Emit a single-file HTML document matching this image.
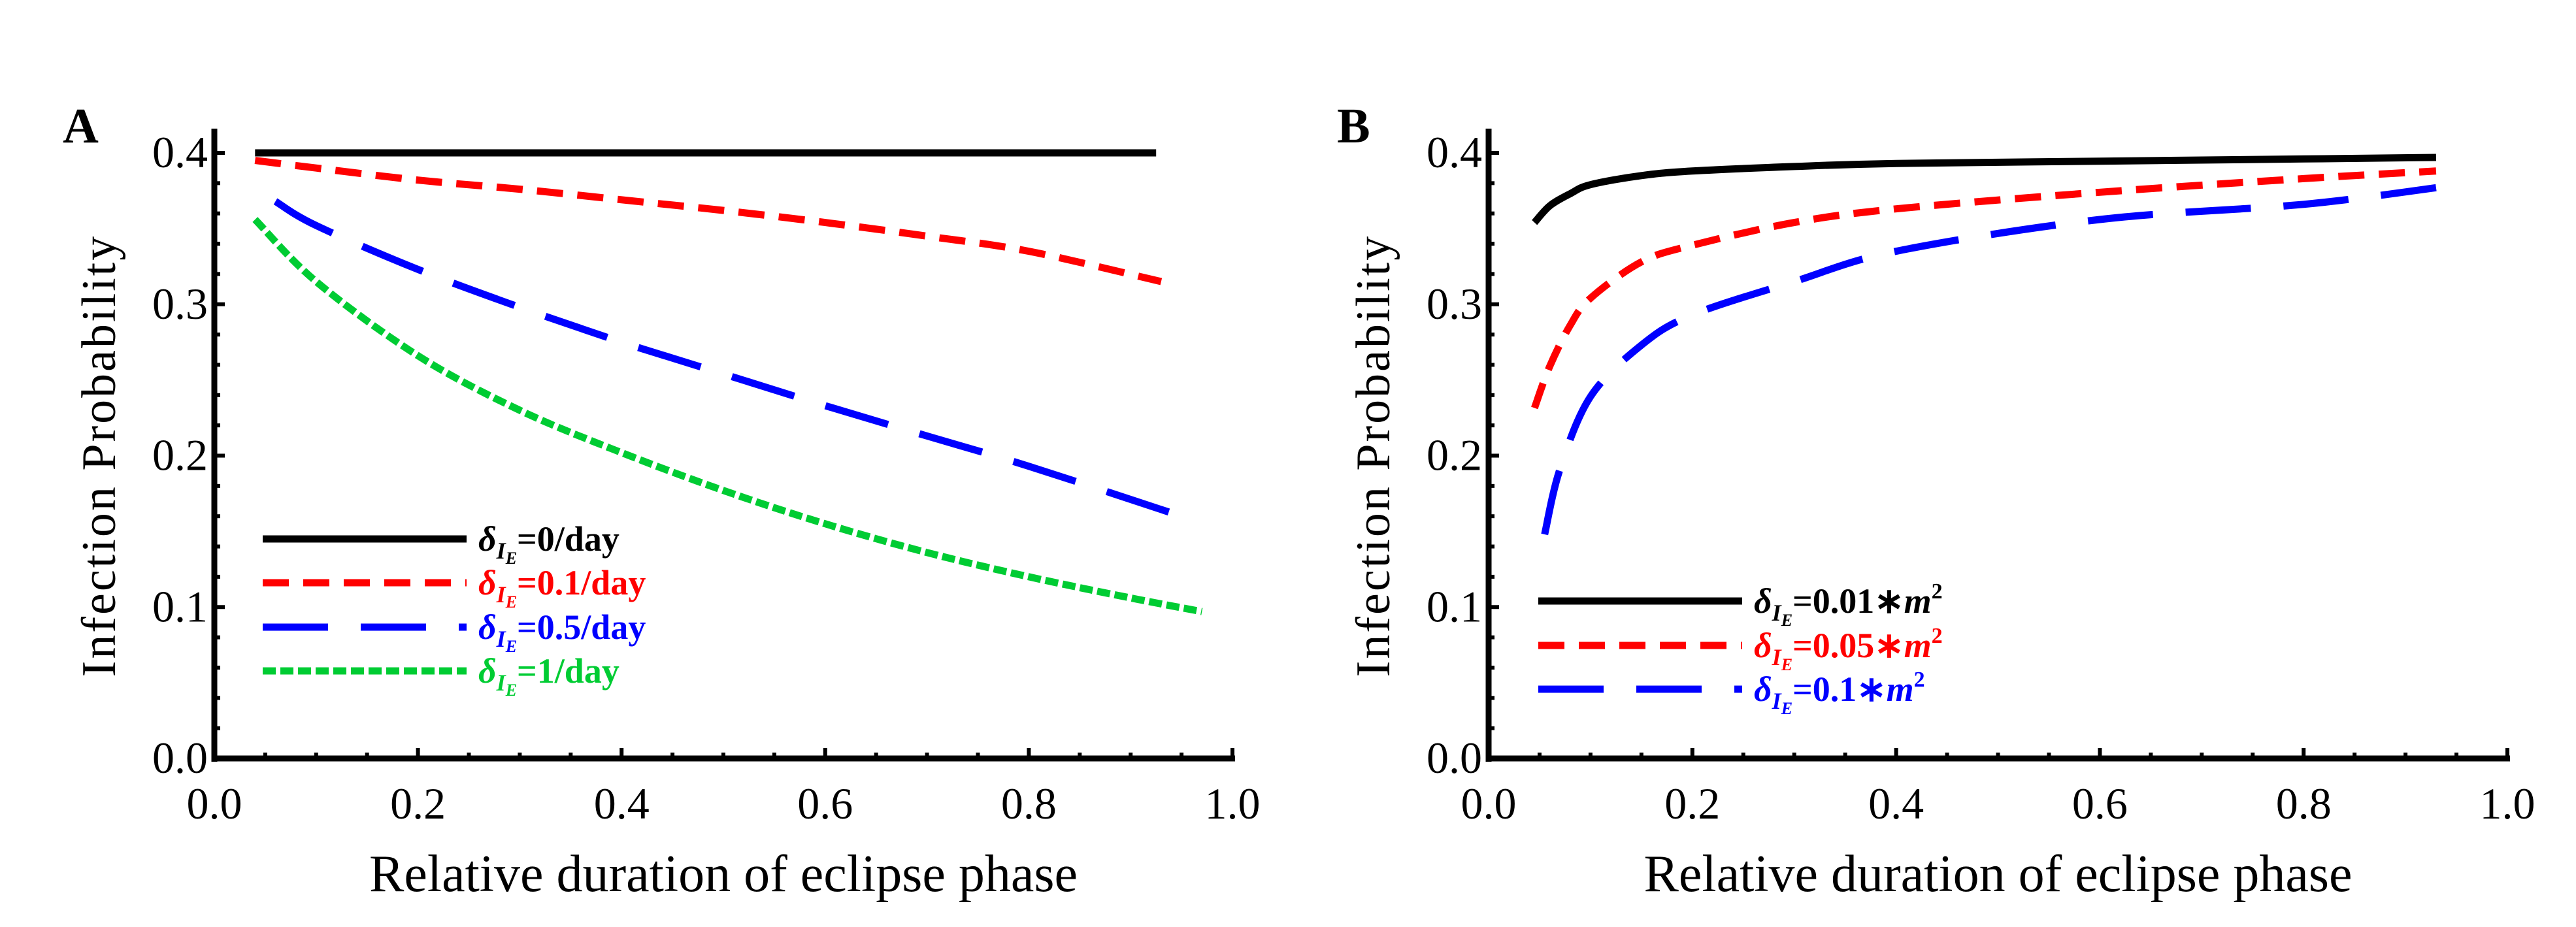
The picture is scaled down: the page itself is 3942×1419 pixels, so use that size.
<!DOCTYPE html>
<html><head><meta charset="utf-8"><style>
html,body{margin:0;padding:0;background:#fff}
svg{display:block}
text{font-family:"Liberation Serif","Times New Roman",serif}
</style></head><body>
<svg id="chart" width="3942" height="1419" xmlns="http://www.w3.org/2000/svg"></svg>
<script>
// ---- data ----
const xA_black=[0.04,0.925], yA_black=[0.4,0.4];
const xA_red=[0.04,0.1,0.2,0.3,0.4,0.5,0.6,0.7,0.8,0.93];
const yA_red=[0.395,0.390,0.382,0.376,0.369,0.362,0.354,0.345,0.335,0.315];
const xA_blue=[0.06,0.1,0.2,0.3,0.4,0.5,0.6,0.7,0.8,0.95];
const yA_blue=[0.368,0.352,0.323,0.298,0.275,0.254,0.233,0.213,0.193,0.160];
const xA_green=[0.04,0.1,0.2,0.3,0.4,0.5,0.6,0.7,0.8,0.9,0.97];
const yA_green=[0.356,0.315,0.266,0.230,0.202,0.177,0.155,0.136,0.120,0.106,0.097];
const xB=[0.045,0.06,0.08,0.1,0.15,0.2,0.3,0.4,0.6,0.8,0.93];
const yB_black=[0.354,0.365,0.373,0.379,0.385,0.388,0.391,0.393,0.3945,0.396,0.397];
const yB_red=[0.2315,0.259,0.286,0.304,0.328,0.339,0.354,0.363,0.374,0.383,0.388];
const xB_blue=[0.055,0.07,0.1,0.15,0.2,0.3,0.4,0.6,0.8,0.93];
const yB_blue=[0.148,0.191,0.239,0.273,0.293,0.315,0.335,0.356,0.366,0.377];
const xTicks=[0,0.2,0.4,0.6,0.8,1.0], xTickLabels=["0.0","0.2","0.4","0.6","0.8","1.0"];
const yTicks=[0,0.1,0.2,0.3,0.4], yTickLabels=["0.0","0.1","0.2","0.3","0.4"];

const NS="http://www.w3.org/2000/svg";
const FONT='"Liberation Serif","Times New Roman",serif';
const svg=document.getElementById('chart');
function mk(tag,attrs,parent){const e=document.createElementNS(NS,tag);for(const k in attrs)e.setAttribute(k,attrs[k]);if(tag==='text')e.setAttribute('font-family',FONT);(parent||svg).appendChild(e);return e;}

const Y0=1161, Y4=234;
function panel(ox, x1, label, name){
  const g=mk('g',{});
  
  
  const sx=v=>ox+v*(x1-ox);
  const sy=v=>Y0-v*(Y0-Y4)/0.4;
  const ya=mk('line',{x1:ox,y1:sy(0)+5,x2:ox,y2:sy(0.416),stroke:'#000','stroke-width':9},g);
  
  const xa=mk('line',{x1:ox-4,y1:sy(0),x2:sx(1)+4,y2:sy(0),stroke:'#000','stroke-width':9},g);
  
  for(let i=0;i<=20;i++){const v=i*0.05;const L=(i%4===0)?16:9;
    mk('line',{x1:sx(v),y1:sy(0),x2:sx(v),y2:sy(0)-L,stroke:'#000','stroke-width':6},g);}
  for(let i=0;i<=20;i++){const v=i*0.02;const L=(i%5===0)?16:9;
    mk('line',{x1:ox,y1:sy(v),x2:ox+L,y2:sy(v),stroke:'#000','stroke-width':6},g);}
  xTicks.forEach((v,i)=>{const t=mk('text',{x:sx(v),y:sy(0)+92,'font-size':68,'text-anchor':'middle'},g);t.textContent=xTickLabels[i];
    });
  yTicks.forEach((v,i)=>{const t=mk('text',{x:ox-10,y:sy(v)+22,'font-size':68,'text-anchor':'end'},g);t.textContent=yTickLabels[i];
    });
  const xl=mk('text',{x:(ox+sx(1))/2,y:1364,'font-size':80,'text-anchor':'middle'},g);xl.textContent='Relative duration of eclipse phase';
  
  const yl=mk('text',{x:0,y:0,'font-size':74,'text-anchor':'middle','letter-spacing':3,transform:`translate(${ox-152},${sy(0.2)}) rotate(-90)`},g);yl.textContent='Infection Probability';
  
  const pl=mk('text',{x:ox-232,y:218,'font-size':76,'font-weight':'bold'},g);pl.textContent=label;
  
  return {g,sx,sy};
}
function smoothPath(pts){
  if(pts.length<3) return pts.map((p,i)=>(i?'L':'M')+p[0].toFixed(1)+','+p[1].toFixed(1)).join(' ');
  let d='M'+pts[0][0].toFixed(1)+','+pts[0][1].toFixed(1);
  for(let i=0;i<pts.length-1;i++){
    const p0=pts[Math.max(0,i-1)],p1=pts[i],p2=pts[i+1],p3=pts[Math.min(pts.length-1,i+2)];
    const c1=[p1[0]+(p2[0]-p0[0])/6,p1[1]+(p2[1]-p0[1])/6];
    const c2=[p2[0]-(p3[0]-p1[0])/6,p2[1]-(p3[1]-p1[1])/6];
    d+=` C${c1[0].toFixed(1)},${c1[1].toFixed(1)} ${c2[0].toFixed(1)},${c2[1].toFixed(1)} ${p2[0].toFixed(1)},${p2[1].toFixed(1)}`;
  }
  return d;
}
function series(p,xs,ys,color,dash,name){
  const d=smoothPath(xs.map((x,i)=>[p.sx(x),p.sy(ys[i])]));
  const e=mk('path',{d,fill:'none',stroke:color,'stroke-width':11,'stroke-dasharray':dash},p.g);
  
  
}
function legend(g,x,y,color,dash,val,unit,name){
  const lg=mk('g',{},g);
  
  
  mk('line',{x1:x,y1:y,x2:x+312,y2:y,stroke:color,'stroke-width':11,'stroke-dasharray':dash},lg);
  const t=mk('text',{x:x+330,y:y+18,'font-size':54,'font-weight':'bold',fill:color},lg);
  t.innerHTML=`<tspan font-style="italic">δ</tspan><tspan font-style="italic" font-size="36" dy="12">I</tspan><tspan font-style="italic" font-size="26" dy="8">E</tspan><tspan dy="-20">=${val}</tspan>${unit}`;
}
const A=panel(328,1886,'A','panel-a');
series(A,xA_black,yA_black,'#000','none','series-a-0-day');
series(A,xA_red,yA_red,'#ff0000','40 22','series-a-0.1-day');
series(A,xA_blue,yA_blue,'#0000ff','100 50','series-a-0.5-day');
series(A,xA_green,yA_green,'#00cc33','20 7','series-a-1-day');
legend(A.g,402,825,'#000','none','0/day','','legend-entry-0-day');
legend(A.g,402,892,'#ff0000','40 22','0.1/day','','legend-entry-0.1-day');
legend(A.g,402,960,'#0000ff','100 50','0.5/day','','legend-entry-0.5-day');
legend(A.g,402,1027,'#00cc33','20 7','1/day','','legend-entry-1-day');

const B=panel(2278,3837,'B','panel-b');
series(B,xB,yB_black,'#000','none','series-b-0.01');
series(B,xB,yB_red,'#ff0000','40 22','series-b-0.05');
series(B,xB_blue,yB_blue,'#0000ff','100 50','series-b-0.1');
const m2='<tspan font-style="italic">m</tspan><tspan font-size="34" dy="-22">2</tspan>';
legend(B.g,2354,920,'#000','none','0.01∗',m2,'legend-entry-0.01');
legend(B.g,2354,988,'#ff0000','40 22','0.05∗',m2,'legend-entry-0.05');
legend(B.g,2354,1055,'#0000ff','100 50','0.1∗',m2,'legend-entry-0.1');
</script>
</body></html>
